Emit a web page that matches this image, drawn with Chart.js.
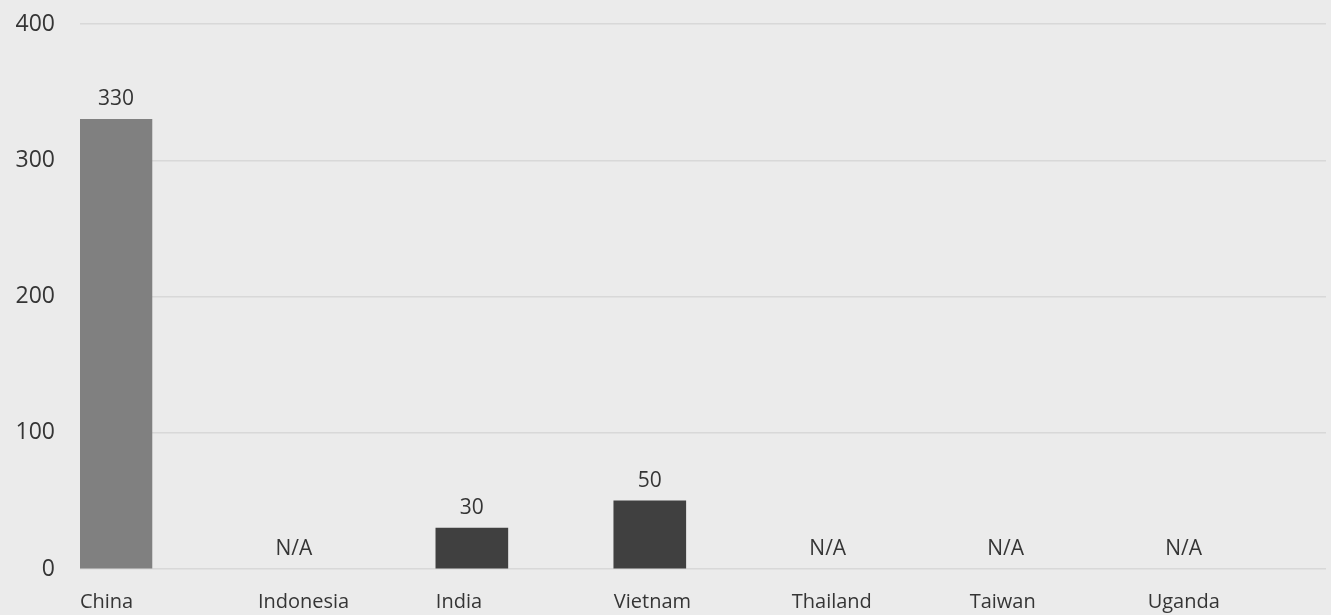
<!DOCTYPE html>
<html>
<head>
<meta charset="utf-8">
<script src="https://cdn.jsdelivr.net/npm/chart.js@4/dist/chart.umd.min.js"></script>
<style>
  html, body { margin: 0; padding: 0; background: #ebebeb; }
  #wrap { width: 1331px; height: 615px; }
</style>
</head>
<body>
<div id="wrap"><canvas id="chart"></canvas></div>
<script>
const countries = ['China', 'Indonesia', 'India', 'Vietnam', 'Thailand', 'Taiwan', 'Uganda'];
const values = [330, null, 30, 50, null, null, null];
const yTicks = [0, 100, 200, 300, 400];

const textColor = '#353535';
const fontFamily = '"Open Sans", sans-serif';

// draws the value above each bar, or N/A where there is no value
const valueLabels = {
  id: 'valueLabels',
  afterDatasetsDraw(chart) {
    const ctx = chart.ctx;
    const xs = chart.scales.x;
    const ys = chart.scales.y;
    ctx.save();
    ctx.fillStyle = textColor;
    ctx.font = '21px ' + fontFamily;
    ctx.textAlign = 'center';
    ctx.textBaseline = 'alphabetic';
    values.forEach((v, i) => {
      const x = xs.getPixelForValue(i);
      const y = ys.getPixelForValue(v == null ? 0 : v);
      ctx.fillText(v == null ? 'N/A' : String(v), x, y - 14);
    });
    ctx.restore();
  }
};

new Chart(document.getElementById('chart'), {
  type: 'bar',
  data: {
    datasets: [{
      data: countries.map((c, i) => ({ x: i, y: values[i] })),
      backgroundColor: ctx => ctx.dataIndex === 0 ? '#808080' : '#404040',
      barThickness: 72
    }]
  },
  options: {
    responsive: true,
    maintainAspectRatio: false,
    animation: false,
    layout: { padding: { top: 24, right: 5, left: 0, bottom: 0 } },
    plugins: { legend: { display: false }, tooltip: { enabled: false } },
    scales: {
      x: {
        type: 'linear',
        offset: false,
        min: -0.202,
        max: 6.8,
        grid: { display: false, drawTicks: false },
        border: { display: false },
        afterBuildTicks: scale => { scale.ticks = countries.map((c, i) => ({ value: i })); },
        afterFit: scale => { scale.height = 46; },
        ticks: {
          autoSkip: false,
          maxRotation: 0,
          align: 'start',
          labelOffset: -36,
          padding: 21,
          color: textColor,
          font: { family: fontFamily, size: 20 },
          callback: v => countries[v]
        }
      },
      y: {
        min: 0,
        max: 400,
        grid: { color: '#d8d8d8', lineWidth: 1.5, drawTicks: false },
        border: { display: false },
        afterBuildTicks: scale => { scale.ticks = yTicks.map(v => ({ value: v })); },
        afterFit: scale => { scale.width = 80; scale.paddingTop = 0; },
        ticks: {
          padding: 25,
          color: textColor,
          font: { family: fontFamily, size: 23 }
        }
      }
    }
  },
  plugins: [valueLabels]
});
</script>
</body>
</html>
